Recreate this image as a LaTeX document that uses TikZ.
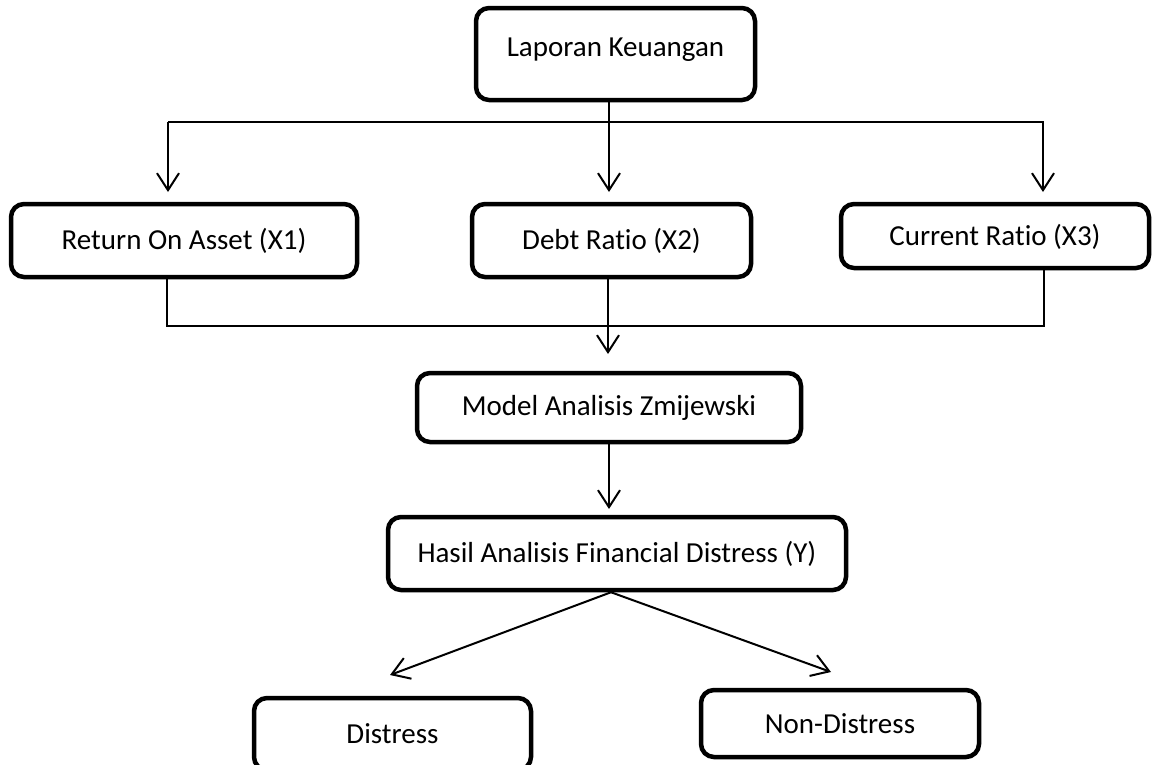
\documentclass[tikz,border=0pt]{standalone}
\usepackage{fontspec}
\setmainfont{Carlito}[Ligatures={NoCommon}]
\usetikzlibrary{arrows.meta}
\tikzset{
  box/.style={draw=black, line width=4.5pt, rounded corners=13pt, fill=white,
    inner sep=0pt, font=\fontsize{29}{34}\selectfont},
  conn/.style={draw=black, line width=2pt},
  arr/.style={conn, -{Straight Barb[length=17pt,width=22pt]}}
}
\begin{document}
\begin{tikzpicture}[x=1pt,y=-1pt]
\useasboundingbox (0,0) rectangle (1152,764);
\clip (0,0) rectangle (1152,764);
% nodes
\node[box, minimum width=279pt, minimum height=92pt, text depth=14pt] (lap) at (615.5,54) {Laporan Keuangan};
\node[box, minimum width=346pt, minimum height=73pt] (roa) at (184,240.5) {Return On Asset (X1)};
\node[box, minimum width=279pt, minimum height=73pt] (debt) at (611.5,240.5) {Debt Ratio (X2)};
\node[box, minimum width=308pt, minimum height=64pt, text height=24pt, text depth=6pt] (cur) at (995,236) {Current Ratio (X3)};
\node[box, minimum width=384pt, minimum height=69pt] (model) at (609,407.5) {Model Analisis Zmijewski};
\node[box, minimum width=458pt, minimum height=73pt] (hasil) at (617,553.5) {Hasil Analisis Financial Distress (Y)};
\node[box, minimum width=277pt, minimum height=72pt] (dis) at (392.5,734) {Distress};
\node[box, minimum width=278pt, minimum height=67pt] (non) at (840,723.5) {Non-Distress};
% connector coordinates
\coordinate (hbar) at (0,122);
\coordinate (tA) at (168,192);
\coordinate (tB) at (609,192);
\coordinate (tC) at (1043,192);
\coordinate (bA) at (167,326);
\coordinate (bC) at (1044,326);
\coordinate (tM) at (608,354);
\coordinate (tH) at (609,509);
\coordinate (hs) at (611,590);
\coordinate (tD) at (390,675);
\coordinate (tN) at (831,672);
% top distribution
\draw[arr] (lap.south -| tB) -- (tB);
\draw[arr] (tA |- hbar) -- (tC |- hbar) -- (tC);
\draw[arr] (tA |- hbar) -- (tA);
% bottom collection
\draw[conn] (roa.south -| bA) -- (bA) -- (bC) -- (cur.south -| bC);
\draw[arr] (debt.south -| tM) -- (tM);
\draw[arr] (model.south -| tH) -- (tH);
% split
\draw[arr] (hasil.south -| hs) -- (tD);
\draw[arr] (hasil.south -| hs) -- (tN);
\end{tikzpicture}
\end{document}
